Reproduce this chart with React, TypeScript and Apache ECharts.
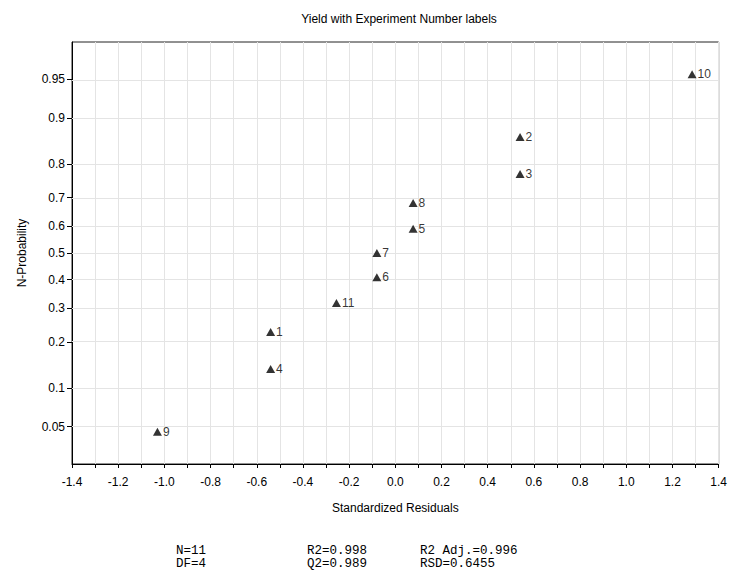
import React, { useEffect, useRef } from "react";
import * as echarts from "echarts";

// Experiment numbers, standardized residuals (x) and normal probabilities (y)
const expLabels = ["9", "4", "1", "11", "6", "7", "5", "8", "3", "2", "10"];
const residuals = [-1.03, -0.54, -0.54, -0.255, -0.08, -0.08, 0.077, 0.077, 0.54, 0.54, 1.285];
const probabilities = [0.045, 0.136, 0.227, 0.318, 0.409, 0.5, 0.591, 0.682, 0.773, 0.864, 0.955];

const probTicks = [0.05, 0.1, 0.2, 0.3, 0.4, 0.5, 0.6, 0.7, 0.8, 0.9, 0.95];

const statsRow1 = ["N=11", "R2=0.998", "R2 Adj.=0.996"];
const statsRow2 = ["DF=4", "Q2=0.989", "RSD=0.6455"];

// inverse standard normal CDF (Acklam)
function normInv(p: number): number {
  const a = [-3.969683028665376e1, 2.209460984245205e2, -2.759285104469687e2, 1.38357751867269e2, -3.066479806614716e1, 2.506628277459239];
  const b = [-5.447609879822406e1, 1.615858368580409e2, -1.556989798598866e2, 6.680131188771972e1, -1.328068155288572e1];
  const c = [-7.784894002430293e-3, -3.223964580411365e-1, -2.400758277161838, -2.549732539343734, 4.374664141464968, 2.938163982698783];
  const d = [7.784695709041462e-3, 3.224671290700398e-1, 2.445134137142996, 3.754408661907416];
  const pl = 0.02425;
  if (p < pl) {
    const q = Math.sqrt(-2 * Math.log(p));
    return (((((c[0] * q + c[1]) * q + c[2]) * q + c[3]) * q + c[4]) * q + c[5]) / ((((d[0] * q + d[1]) * q + d[2]) * q + d[3]) * q + 1);
  }
  if (p > 1 - pl) {
    const q = Math.sqrt(-2 * Math.log(1 - p));
    return -(((((c[0] * q + c[1]) * q + c[2]) * q + c[3]) * q + c[4]) * q + c[5]) / ((((d[0] * q + d[1]) * q + d[2]) * q + d[3]) * q + 1);
  }
  const q = p - 0.5;
  const r = q * q;
  return ((((((a[0] * r + a[1]) * r + a[2]) * r + a[3]) * r + a[4]) * r + a[5]) * q) / (((((b[0] * r + b[1]) * r + b[2]) * r + b[3]) * r + b[4]) * r + 1);
}

const FONT = "Liberation Sans";
const MONO = "Liberation Mono";

export default function App() {
  const ref = useRef<HTMLDivElement>(null);
  useEffect(() => {
    if (!ref.current) return;
    const chart = echarts.init(ref.current, undefined, { renderer: "svg" });
    const tickZ = probTicks.map((p) => normInv(p));
    const labelFor = (z: number) => {
      let best = 0;
      tickZ.forEach((t, i) => {
        if (Math.abs(t - z) < Math.abs(tickZ[best] - z)) best = i;
      });
      return String(probTicks[best]);
    };
    const data = residuals.map((x, i) => ({ value: [x, normInv(probabilities[i])], name: expLabels[i] }));
    const statCols = [168, 299, 412];
    const graphics: any[] = [];
    statsRow1.forEach((t, i) =>
      graphics.push({ type: "text", left: statCols[i], top: 536, style: { text: t, font: `12.5px "${MONO}"`, fill: "#000" } })
    );
    statsRow2.forEach((t, i) =>
      graphics.push({ type: "text", left: statCols[i], top: 549, style: { text: t, font: `12.5px "${MONO}"`, fill: "#000" } })
    );
    chart.setOption({
      animation: false,
      backgroundColor: "#fff",
      title: {
        text: "Yield with Experiment Number labels",
        left: 386,
        textAlign: "center",
        top: 0,
        textStyle: { fontFamily: FONT, fontSize: 12, fontWeight: "normal", color: "#000" },
      },
      grid: { left: 59, top: 34, width: 654, height: 422, show: true, borderColor: "#222", borderWidth: 1, backgroundColor: "transparent" },
      xAxis: {
        type: "value",
        min: -1.4,
        max: 1.4,
        interval: 0.1,
        name: "Standardized Residuals",
        nameLocation: "middle",
        nameGap: 38,
        nameTextStyle: { fontFamily: FONT, fontSize: 12, color: "#000" },
        axisLine: { onZero: false, lineStyle: { color: "#000", width: 1 } },
        axisTick: { show: true, length: 4, lineStyle: { color: "#000" } },
        axisLabel: {
          fontFamily: FONT,
          fontSize: 12,
          color: "#000",
          margin: 12,
          showMinLabel: true,
          showMaxLabel: true,
          formatter: (v: number) => (Math.round(v * 10) % 2 === 0 ? v.toFixed(1) : ""),
        },
        splitLine: { show: true, lineStyle: { color: "#e4e4e4", width: 1 } },
      },
      yAxis: {
        type: "value",
        min: -2,
        max: 2,
        name: "N-Probability",
        nameLocation: "middle",
        nameGap: 44,
        nameTextStyle: { fontFamily: FONT, fontSize: 12, color: "#000" },
        axisLine: { show: true, onZero: false, lineStyle: { color: "#000", width: 1 } },
        axisTick: { show: true, length: 5, customValues: tickZ, lineStyle: { color: "#000" } },
        axisLabel: {
          fontFamily: FONT,
          fontSize: 12,
          color: "#000",
          margin: 7,
          customValues: tickZ,
          formatter: (v: number) => labelFor(v),
        },
        splitLine: { show: false },
      },
      series: [
        {
          type: "scatter",
          data,
          symbol: "triangle",
          symbolSize: [9, 8],
          itemStyle: { color: "#000" },
          label: {
            show: true,
            position: "right",
            distance: 1,
            formatter: (p: any) => p.name,
            fontFamily: FONT,
            fontSize: 12,
            color: "#000",
          },
          markLine: {
            silent: true,
            symbol: "none",
            label: { show: false },
            lineStyle: { color: "#e4e4e4", width: 1, type: "solid" },
            data: tickZ.map((z) => ({ yAxis: z })),
            z: 1,
          },
          z: 5,
        },
      ],
      graphic: graphics,
    });
    return () => chart.dispose();
  }, []);
  return <div ref={ref} style={{ width: 722, height: 564 }} />;
}
